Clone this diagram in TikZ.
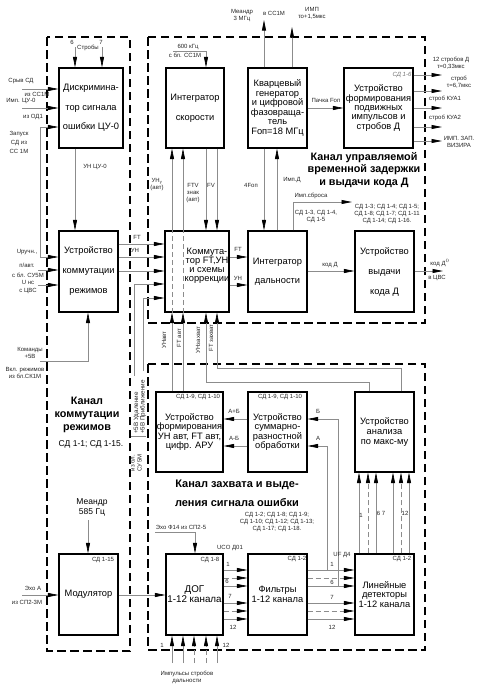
\documentclass[tikz,border=0pt]{standalone}
\usepackage{fontspec}
\setmainfont{Liberation Sans}
\usetikzlibrary{arrows.meta}
\begin{document}
\begin{tikzpicture}[x=1pt,y=-1pt,
  blk/.style={draw=black,line width=1.2pt,fill=white,inner sep=0pt,align=center,
    font=\fontsize{9.3}{9.6}\selectfont},
  frame/.style={draw=black,line width=1.6pt,dash pattern=on 8.5pt off 4.5pt},
  conn/.style={draw=black!45,line width=0.65pt},
  arr/.style={conn,-{Triangle[length=10.5pt,width=4pt,color=black]}},
  dconn/.style={conn,dash pattern=on 5pt off 3pt},
  darr/.style={arr,dash pattern=on 5pt off 3pt},
  lbl/.style={font=\fontsize{6}{7}\selectfont,inner sep=0pt,align=center,text=black!85},
  ttl/.style={font=\bfseries\fontsize{10.8}{12.8}\selectfont,inner sep=0pt,align=center},
  mid/.style={font=\fontsize{8.5}{10}\selectfont,inner sep=0pt,align=center},
]
\useasboundingbox[fill=white] (0,0) rectangle (481,686);

% frames
\draw[frame] (47,37) rectangle (130,651);
\draw[frame] (148,37) rectangle (425,323);
\draw[frame] (148,364) rectangle (425,650);

% blocks
\node[blk,minimum width=64pt,minimum height=80pt,font=\fontsize{9.3}{19.5}\selectfont] (b1) at (91,108) {Дискримина-\\тор сигнала\\ошибки ЦУ-0};
\node[blk,minimum width=59pt,minimum height=81pt,font=\fontsize{9.3}{20}\selectfont] (b2) at (88.5,271.5) {Устройство\\коммутации\\режимов};
\node[blk,minimum width=58pt,minimum height=80pt,font=\fontsize{9.3}{20}\selectfont] (b3) at (195,108) {Интегратор\\скорости};
\node[blk,minimum width=59pt,minimum height=80pt] (b4) at (277.5,108) {Кварцевый\\генератор\\и цифровой\\фазовраща-\\тель\\Fоп=18 МГц};
\node[blk,minimum width=69pt,minimum height=80pt,font=\fontsize{9.3}{9.4}\selectfont] (b5) at (378.5,108) {Устройство\\формирования\\подвижных\\импульсов и\\стробов Д};
\node[blk,minimum width=64pt,minimum height=81pt] (b6) at (197,271.5) {};
\node[blk,minimum width=59pt,minimum height=81pt,font=\fontsize{9.3}{19}\selectfont] (b7) at (277.5,271.5) {Интегратор\\дальности};
\node[blk,minimum width=59pt,minimum height=81pt,font=\fontsize{9.3}{20}\selectfont] (b8) at (384.5,271.5) {Устройство\\выдачи\\кода Д};
\node[blk,minimum width=67pt,minimum height=80pt] (b9) at (189.5,432) {Устройство\\формирования\\УН авт, FT авт,\\цифр. АРУ};
\node[blk,minimum width=59pt,minimum height=80pt] (b10) at (277.5,432) {Устройство\\суммарно-\\разностной\\обработки};
\node[blk,minimum width=59pt,minimum height=80pt] (b11) at (384.5,432) {Устройство\\анализа\\по макс-му};
\node[blk,minimum width=59pt,minimum height=81pt] (b12) at (88.5,594.5) {Модулятор};
\node[blk,minimum width=57pt,minimum height=81pt,font=\fontsize{9.8}{10}\selectfont] (b13) at (194.5,594.5) {ДОГ\\1-12 канала};
\node[blk,minimum width=59pt,minimum height=81pt,font=\fontsize{9.3}{10}\selectfont] (b14) at (277.5,594.5) {Фильтры\\1-12 канала};
\node[blk,minimum width=59pt,minimum height=81pt] (b15) at (384.5,594.5) {Линейные\\детекторы\\1-12 канала};

% ---------- left column ----------
\node[lbl] (s6) at (72,42) {6};
\node[lbl] (s7) at (101,42) {7};
\node[lbl] (sstr) at (88,48) {Стробы};
\draw[arr] (75,47) -- (75,0 |- b1.north);
\draw[arr] (102,47) -- (102,0 |- b1.north);

\coordinate (srv) at (22,89);
\coordinate (imp) at (22,108);
\coordinate (zap) at (40,127);
\coordinate (zapb) at (40,257);
\draw[arr] (srv) -- (srv -| b1.west);
\draw[arr] (imp) -- (imp -| b1.west);
\draw[arr] (zapb) -- (zap) -- (zap -| b1.west);
\node[lbl] (tsrv) at (21,81) {Срыв СД};
\node[lbl] (tsrv2) at (37,94) {из СС1М};
\node[lbl] (timp) at (21,101) {Имп. ЦУ-0};
\node[lbl] (timp2) at (33,117) {из ОД1};
\node[lbl,font=\fontsize{6}{9}\selectfont] (tzap) at (19,142) {Запуск\\СД из\\СС 1М};

\draw[arr] (75,0 |- b1.south) -- (75,0 |- b2.north);
\node[lbl] (tun0) at (95,167) {УН ЦУ-0};

\coordinate (u2) at (38,270);
\coordinate (u3) at (38,285);
\draw[arr] (zapb) -- (zapb -| b2.west);
\draw[arr] (u2) -- (u2 -| b2.west);
\draw[arr] (u3) -- (u3 -| b2.west);
\node[lbl] (tur) at (27,252) {Uручн.,};
\node[lbl] (tpa) at (27,265) {п/авт.};
\node[lbl] (tsu) at (28,275) {с бл. СУ5М};
\node[lbl] (tun) at (28,282) {U нс};
\node[lbl] (tcvs) at (28,291) {с ЦВС};

\coordinate (kom) at (40,361);
\draw[arr] (kom) -- (88,361) -- (88,0 |- b2.south);
\node[lbl] (tkom) at (30,353) {Команды\\+5В};
\node[lbl] (tvkl) at (25,373) {Вкл. режимов\\из бл.СК1М};

\node[ttl] (tkan1) at (87,415) {Канал\\коммутации\\режимов};
\node[mid] (tsd11) at (91,444) {СД 1-1; СД 1-15.};
\node[mid] (tmea) at (92,507) {Меандр\\585 Гц};
\draw[arr] (88,520) -- (88,0 |- b12.north);
\node[lbl] (tsd115) at (103,560) {СД 1-15};

\coordinate (ehoA) at (22,595);
\draw[arr] (ehoA) -- (ehoA -| b12.west);
\node[lbl] (tehoA) at (33,588) {Эхо А};
\node[lbl] (tehoA2) at (27,602) {из СП2-3М};
\draw[arr] (b12.east |- 0,595) -- (b13.west |- 0,595);

% ---------- b2 -> b6 ----------
\foreach \yy in {244,257,271} \draw[arr] (b2.east |- 0,\yy) -- (b6.west |- 0,\yy);
\node[lbl] (tft1) at (137,237) {FT};
\node[lbl] (tun1) at (135,250) {УН};
\coordinate (udl) at (134,376);
\coordinate (prb) at (143,371);
\draw[arr] (udl) -- (134,284) -- (b6.west |- 0,284);
\draw[arr] (prb) -- (143,298) -- (b6.west |- 0,298);
\node[lbl,rotate=90,anchor=west,font=\fontsize{6.3}{7}\selectfont] (tudl) at (136.5,434) {+5В Удаление};
\node[lbl,rotate=90,anchor=west,font=\fontsize{6.3}{7}\selectfont] (tprb) at (143,434) {+5В Приближение};
\draw[conn] (131,436) -- (146,436);
\node[lbl,rotate=90] (tsu5) at (136,463) {из бл.\\СУ 5М};

% ---------- top channel ----------
\node[lbl] (t600) at (188,47) {600 кГц};
\node[lbl] (t600b) at (185,55) {с бл. СС1М};
\coordinate (k600) at (173,51);
\draw[arr] (k600) -- (206,51) -- (206,0 |- b3.north);

\draw[arr] (206,0 |- b3.south) -- (206,0 |- b6.north);
\draw[arr] (217,0 |- b3.south) -- (217,0 |- b6.north);
\node[lbl] (tftv) at (193,193) {FTV\\знак\\(авт)};
\node[lbl] (tfv) at (211,185) {FV};
\node[lbl] (tuny) at (157,185) {УН$_{\mbox{\fontsize{4}{4}\selectfont у}}$\\(авт)};

\foreach \xx in {172,183}{
  \draw[arr] (\xx,0 |- b9.north) -- (\xx,0 |- b6.south);
  \draw[dconn] (\xx,0 |- b6.south) -- (\xx,0 |- b6.north);
  \draw[arr] (\xx,0 |- b6.north) -- (\xx,0 |- b3.south);
}
\node[align=center,inner sep=0pt,font=\fontsize{9.3}{9}\selectfont] (b6t) at (207,266) {Коммута-\\тор FT,УН\\и схемы\\коррекции};

\draw[arr] (264,0 |- b4.north) -- (264,20);
\draw[arr] (292,0 |- b4.north) -- (292,27);
\node[lbl] (tmea3) at (242,16) {Меандр\\3 МГц};
\node[lbl] (tcc1m) at (274,13) {в СС1М};
\node[lbl] (timp15) at (312,13) {ИМП\\τо+1,5мкс};

\draw[arr] (b4.east |- 0,108) -- (b5.west |- 0,108);
\node[lbl] (tpach) at (326,100) {Пачка Fоп};
\node[lbl,font=\itshape\fontsize{6}{7}\selectfont,text=black!55] (tsd16) at (402,75) {СД 1-6};
\foreach \yy in {75,91,108,127,141} \draw[arr] (b5.east |- 0,\yy) -- (442,\yy);
\node[lbl] (ts12) at (451,63) {12 стробов Д\\τ=0,33мкс};
\node[lbl] (tst67) at (459,82) {строб\\τ=6,7мкс};
\node[lbl] (tkua1) at (445,99) {строб КУА1};
\node[lbl] (tkua2) at (445,118) {строб КУА2};
\node[lbl] (tviz) at (459,142) {ИМП. ЗАП.\\ВИЗИРА};

\draw[arr] (264,0 |- b4.south) -- (264,0 |- b7.north);
\draw[arr] (277,0 |- b7.north) -- (277,0 |- b4.south);
\node[lbl] (t4f) at (251,185) {4Fоп};
\node[lbl] (timpd) at (292,180) {Имп.Д};
\draw[arr] (293,0 |- b7.north) -- (293,202) -- (352,202);
\node[lbl] (tsbr) at (311,196) {Имп.сброса};
\node[lbl] (tsdl) at (316,216) {СД 1-3, СД 1-4,\\СД 1-5};
\node[lbl] (tsdr) at (387,214) {СД 1-3; СД 1-4; СД 1-5;\\СД 1-8; СД 1-7; СД 1-11\\СД 1-14; СД 1-16.};

\node[ttl] (tkan2) at (364,170) {Канал управляемой\\временной задержки\\и выдачи кода Д};

\draw[arr] (b6.east |- 0,257) -- (b7.west |- 0,257);
\draw[arr] (b6.east |- 0,285) -- (b7.west |- 0,285);
\node[lbl] (tft2) at (238,249) {FT};
\node[lbl] (tun2) at (238,278) {УН};
\draw[arr] (b7.east |- 0,271) -- (b8.west |- 0,271);
\node[lbl] (tkd) at (330,265) {код Д};
\draw[arr] (b8.east |- 0,271) -- (443,271);
\node[lbl] (tkd0) at (440,263) {код Д$^{0}$};
\node[lbl] (tcvs2) at (437,278) {в ЦВС};

% ---------- bottom channel ----------
\draw[arr] (369,0 |- b11.north) -- (369,382) -- (206,382) -- (206,0 |- b6.south);
\draw[arr] (401,0 |- b11.north) -- (401,368) -- (217,368) -- (217,0 |- b6.south);
\node[lbl,rotate=90] (tunavt) at (164,340) {УНавт};
\node[lbl,rotate=90] (tftavt) at (179,338) {FT авт};
\node[lbl,rotate=90] (tunz) at (198,340) {УНзахват};
\node[lbl,rotate=90] (tftz) at (211,338) {FT захват};

\node[lbl] (tsd9a) at (198,397) {СД 1-9, СД 1-10};
\node[lbl] (tsd9b) at (280,397) {СД 1-9, СД 1-10};
\draw[arr] (b10.west |- 0,419) -- (b9.east |- 0,419);
\draw[arr] (b10.west |- 0,446) -- (b9.east |- 0,446);
\node[lbl] (tapb) at (234,411) {А+Б};
\node[lbl] (tamb) at (234,438) {А-Б};

\draw[arr] (338,586) -- (338,419) -- (b10.east |- 0,419);
\draw[arr] (327,570) -- (327,446) -- (b10.east |- 0,446);
\node[lbl] (tb) at (318,411) {Б};
\node[lbl] (ta) at (318,438) {А};

\foreach \xx in {359,376,393,409} \draw[arr] (\xx,0 |- b15.north) -- (\xx,0 |- b11.south);
\foreach \xx in {368,401} \draw[darr] (\xx,0 |- b15.north) -- (\xx,0 |- b11.south);
\node[lbl] (tc1) at (361,515) {1};
\node[lbl] (tc67) at (381,513) {6 7};
\node[lbl] (tc12) at (405,513) {12};

\node[ttl,font=\bfseries\fontsize{11}{19}\selectfont] (tkan3) at (237,493) {Канал захвата и выде-\\ления сигнала ошибки};
\node[lbl] (tsdl3) at (277,522) {СД 1-2; СД 1-8; СД 1-9;\\СД 1-10; СД 1-12; СД 1-13;\\СД 1-17; СД 1-18.};

\node[lbl] (teho14) at (181,527) {Эхо Ф14 из СП2-5};
\coordinate (eho14) at (155,532);
\draw[arr] (eho14) -- (195,532) -- (195,0 |- b13.north);

\node[lbl] (tsd18) at (210,560) {СД 1-8};
\node[lbl] (tsd12a) at (297,559) {СД 1-2};
\node[lbl] (tsd12b) at (402,559) {СД 1-2};
\node[lbl] (tuco) at (230,548) {UCO Д01};
\node[lbl] (tuf) at (342,555) {UF Д4};

\foreach \yy in {570,586,603,619}{
  \draw[arr] (b13.east |- 0,\yy) -- (b14.west |- 0,\yy);
  \draw[arr] (b14.east |- 0,\yy) -- (b15.west |- 0,\yy);
}
\foreach \yy in {578,611}{
  \draw[darr] (b13.east |- 0,\yy) -- (b14.west |- 0,\yy);
  \draw[darr] (b14.east |- 0,\yy) -- (b15.west |- 0,\yy);
}
\node[lbl] (td1) at (228,564) {1};
\node[lbl] (td6) at (227,581) {6};
\node[lbl] (td7) at (230,596) {7};
\node[lbl] (td12) at (233,627) {12};
\node[lbl] (tl1) at (332,564) {1};
\node[lbl] (tl6) at (332,582) {6};
\node[lbl] (tl7) at (332,597) {7};
\node[lbl] (tl12) at (332,627) {12};

\foreach \xx in {172,183,217} \draw[arr] (\xx,663) -- (\xx,0 |- b13.south);
\foreach \xx in {194,206} \draw[darr] (\xx,663) -- (\xx,0 |- b13.south);
\node[lbl] (tg1) at (162,645) {1};
\node[lbl] (tg12) at (226,645) {12};
\node[lbl] (tgimp) at (187,677) {Импульсы стробов\\дальности};

\end{tikzpicture}
\end{document}
